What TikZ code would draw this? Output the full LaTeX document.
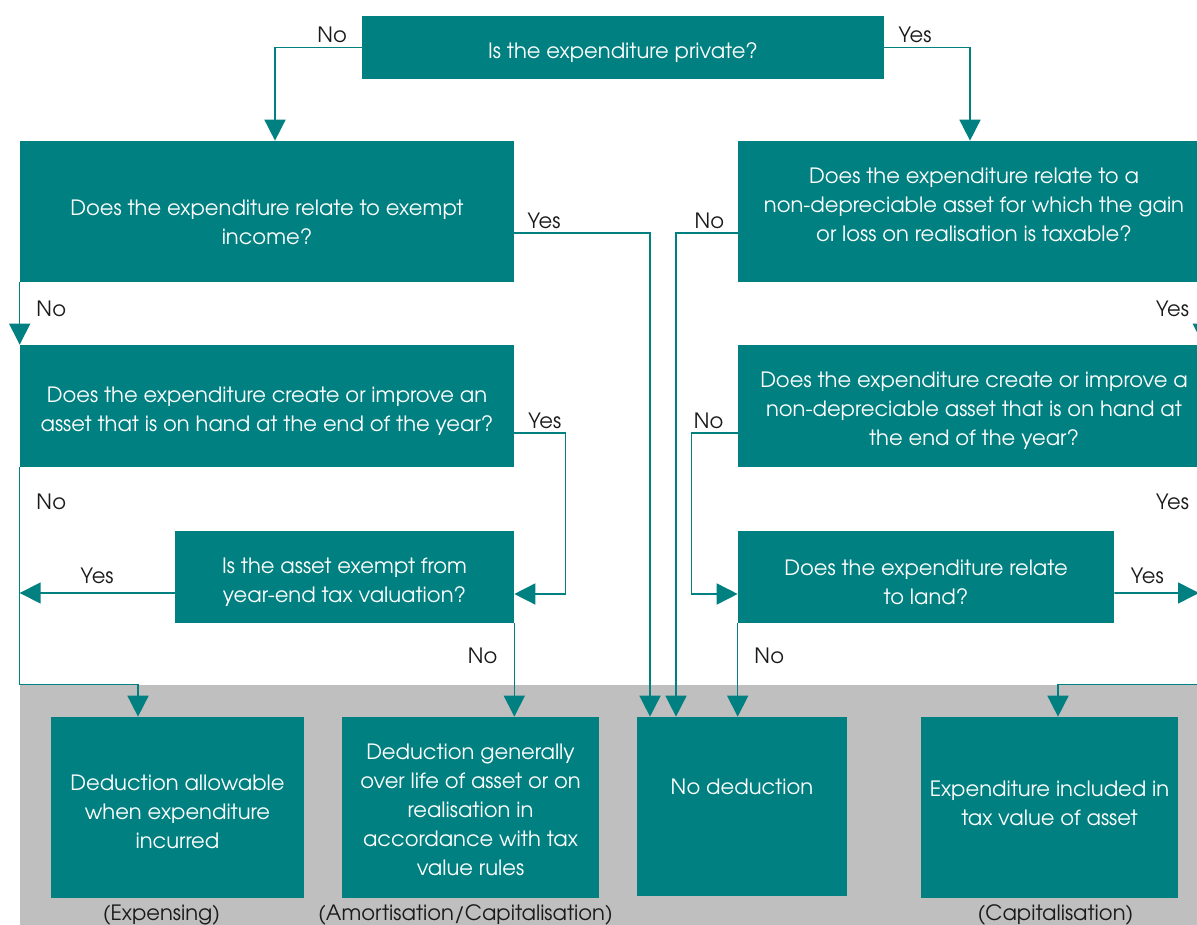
\documentclass[tikz,border=0pt]{standalone}
\usepackage{fontspec}
\setmainfont{TeX Gyre Adventor}
\usetikzlibrary{positioning,arrows.meta}

\definecolor{boxteal}{HTML}{008080}
\definecolor{bandgray}{HTML}{BFBFBF}
\definecolor{labelgray}{HTML}{1A1A1A}

% strut that pushes a box text down
\newcommand{\qstrut}[1]{\rule{0pt}{#1}}

\tikzset{
  qbox/.style={fill=boxteal, text=white, align=center, inner sep=0pt,
    font=\fontsize{12}{16.5}\selectfont},
  tup/.style={execute at end node={\rule[-#1]{0pt}{#1}}},
  flow/.style={draw=boxteal, line width=0.9pt,
    -{Triangle[length=0.42cm, width=0.42cm]}},
  lbl/.style={text=labelgray, inner sep=2pt, font=\fontsize{12}{16.5}\selectfont},
}

\begin{document}
\begin{tikzpicture}[x=0.02cm, y=-0.02cm]
    \useasboundingbox (0,0) rectangle (1197,925);
    % grey band behind the outcomes
    \fill[bandgray] (20,685) rectangle (1197,925);

    % Question boxes
    \node[qbox, minimum width=10.44cm, minimum height=1.26cm] (priv) at (623,47.5) {\qstrut{14.7pt}Is the expenditure private?};
    \node[qbox, minimum width=9.88cm, minimum height=2.82cm] (exempt) at (267,211.5) {\qstrut{21.4pt}Does the expenditure relate to exempt\\income?};
    \node[qbox, tup=7.9pt, minimum width=9.44cm, minimum height=2.82cm] (realis) at (974,211.5) {Does the expenditure relate to a\\non-depreciable asset for which the gain\\or loss on realisation is taxable?};
    \node[qbox, minimum width=9.88cm, minimum height=2.44cm] (onhand) at (267,406) {\qstrut{14.7pt}Does the expenditure create or improve an\\asset that is on hand at the end of the year?};
    \node[qbox, minimum width=9.44cm, minimum height=2.44cm] (onhandnd) at (974,406) {\qstrut{14.7pt}Does the expenditure create or improve a\\non-depreciable asset that is on hand at\\the end of the year?};
    \node[qbox, minimum width=6.78cm, minimum height=1.84cm] (yearend) at (344.5,577) {\qstrut{14.7pt}Is the asset exempt from\\year-end tax valuation?};
    \node[qbox, minimum width=7.52cm, minimum height=1.84cm] (land) at (926,577) {\qstrut{14.7pt}Does the expenditure relate\\to land?};

    % Outcome boxes
    \node[qbox, minimum width=5.06cm, minimum height=3.62cm] (allow) at (177.5,807.5) {\qstrut{13.5pt}Deduction allowable\\when expenditure\\incurred};
    \node[qbox, minimum width=5.14cm, minimum height=3.62cm] (amort) at (470.5,807.5) {\qstrut{11.3pt}Deduction generally\\over life of asset or on\\realisation in\\accordance with tax\\value rules};
    \node[qbox, tup=22.6pt, minimum width=4.2cm, minimum height=3.58cm] (nodeduct) at (742,806.5) {No deduction};
    \node[qbox, tup=4.5pt, minimum width=5.14cm, minimum height=3.62cm] (capit) at (1049.5,807.5) {Expenditure included in\\tax value of asset};

    \node[lbl, below=0.05cm of allow, xshift=-0.32cm] (expcap) {(Expensing)};
    \node[lbl, below=0.05cm of amort, xshift=-0.1cm] (amortcap) {(Amortisation/Capitalisation)};
    \node[lbl, below=0.05cm of capit, xshift=0.12cm] (capcap) {(Capitalisation)};

    \coordinate (yesL) at ([yshift=-0.32cm]yearend.west);
    \coordinate (edgeR) at (1199,593);

    % Connectors
    \draw[flow] (priv.west) -| node[lbl, pos=0.17, above] {No} ([xshift=0.16cm]exempt.north);
    \draw[flow] (priv.east) -| node[lbl, pos=0.18, above] {Yes} ([xshift=-0.08cm]realis.north);
    \draw[flow] ([yshift=-0.43cm]exempt.east) -| node[lbl, pos=0.11, above] {Yes} ([xshift=-1.84cm]nodeduct.north);
    \draw[flow] ([yshift=-0.43cm]realis.west) -| node[lbl, pos=0.23, above] {No} ([xshift=-1.32cm]nodeduct.north);
    \draw[flow] (exempt.south west) -- node[lbl, pos=0.43, right=0.25cm] {No} (onhand.north west);
    \draw[flow] ([xshift=-0.14cm]realis.south east) -- node[lbl, pos=0.43, left=0.2cm] {Yes} ([xshift=-0.14cm]onhandnd.north east);
    \draw[flow] ([yshift=-0.54cm]onhand.east) -- ++(51,0) node[lbl, pos=0.6, above] {Yes} |- ([yshift=-0.34cm]yearend.east);
    \draw[flow] ([yshift=-0.54cm]onhandnd.west) -- ++(-46,0) node[lbl, pos=0.63, above] {No} |- ([yshift=-0.34cm]land.west);
    \draw[flow] (onhand.south west) |- node[lbl, pos=0.08, right=0.25cm] {No} ([xshift=-0.79cm, yshift=0.64cm]allow.north) -- ([xshift=-0.79cm]allow.north);
    \draw[flow] (yesL) -- node[lbl, midway, above=0.09cm] {Yes} (yesL -| onhand.west);
    \draw[flow] (yearend.south east) -- node[lbl, pos=0.35, left=0.25cm] {No} (yearend.south east |- amort.north);
    \draw[flow] (land.south west) -- node[lbl, pos=0.35, right=0.25cm] {No} (land.south west |- nodeduct.north);
    \draw[flow] ([yshift=-0.32cm]land.east) -- node[lbl, pos=0.39, above=0.09cm] {Yes} (edgeR);
    \draw[flow] ([xshift=-0.14cm]onhandnd.south east) |- node[lbl, pos=0.08, left=0.2cm] {Yes} ([xshift=0.17cm, yshift=0.64cm]capit.north) -- ([xshift=0.17cm]capit.north);
\end{tikzpicture}
\end{document}
